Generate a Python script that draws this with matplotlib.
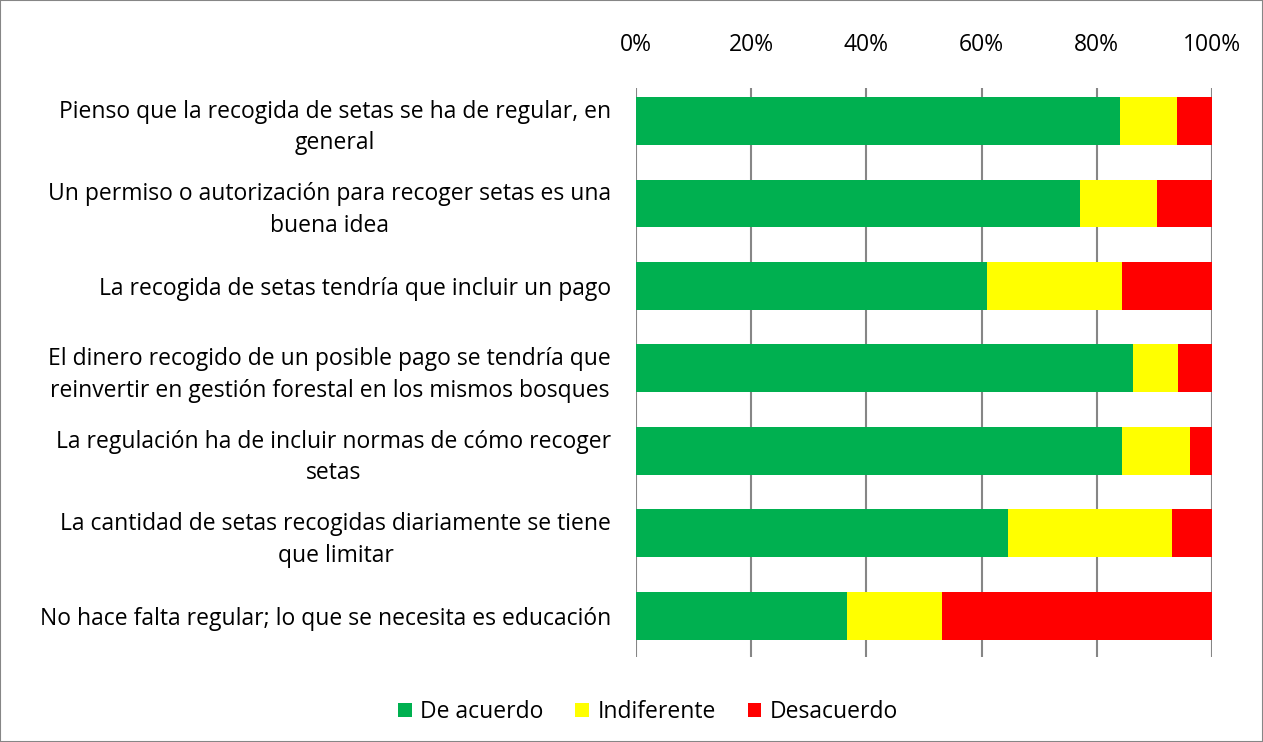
import matplotlib.pyplot as plt
import matplotlib.patches as mpatches
import numpy as np

plt.rcParams['font.family'] = ['Open Sans', 'DejaVu Sans']

# categories (top to bottom)
labels = [
    "Pienso que la recogida de setas se ha de regular, en\ngeneral",
    "Un permiso o autorización para recoger setas es una\nbuena idea",
    "La recogida de setas tendría que incluir un pago",
    "El dinero recogido de un posible pago se tendría que\nreinvertir en gestión forestal en los mismos bosques",
    "La regulación ha de incluir normas de cómo recoger\nsetas",
    "La cantidad de setas recogidas diariamente se tiene\nque limitar",
    "No hace falta regular; lo que se necesita es educación",
]

# percentages
de_acuerdo = [84.0, 77.1, 61.0, 86.2, 84.4, 64.6, 36.6]
indiferente = [9.9, 13.4, 23.3, 7.9, 11.8, 28.5, 16.6]
desacuerdo = [6.1, 9.5, 15.7, 5.9, 3.8, 6.9, 46.8]

series = ["De acuerdo", "Indiferente", "Desacuerdo"]
colors = ["#00B050", "#FFFF00", "#FF0000"]

fs = 16.5

fig = plt.figure(figsize=(12.63, 7.42), dpi=100)
ax = fig.add_axes([636/1263, 1-657/742, 576/1263, 569/742])

y = np.arange(len(labels))
left = np.zeros(len(labels))
for vals, name, c in zip([de_acuerdo, indiferente, desacuerdo], series, colors):
    vals = np.array(vals)
    ax.barh(y, vals, left=left, height=0.58, color=c, label=name, zorder=3)
    left += vals

ax.set_xlim(0, 100)
ax.set_ylim(6.5, -0.4)
ax.set_xticks(np.arange(0, 101, 20))
ax.set_xticklabels([f"{v}%" for v in range(0, 101, 20)])
ax.xaxis.tick_top()
ax.tick_params(axis='x', length=0, pad=22, labelsize=fs)
ax.grid(axis='x', color='#868686', linewidth=1.5, zorder=0)
ax.set_yticks(y)
ax.set_yticklabels(labels, fontsize=fs, multialignment='center', linespacing=1.4)
ax.tick_params(axis='y', length=0, pad=18)
for s in ax.spines.values():
    s.set_visible(False)

fig.legend(loc='center', bbox_to_anchor=(648/1263, 1-712/742), ncol=3, frameon=False,
           fontsize=fs, handlelength=0.6, handleheight=0.6, handletextpad=0.35,
           columnspacing=1.4)

fig.patches.append(mpatches.Rectangle((0, 0), 1, 1, transform=fig.transFigure,
                                      fill=False, edgecolor='#868686', linewidth=1.5))

fig.savefig('out.png', dpi=100)
